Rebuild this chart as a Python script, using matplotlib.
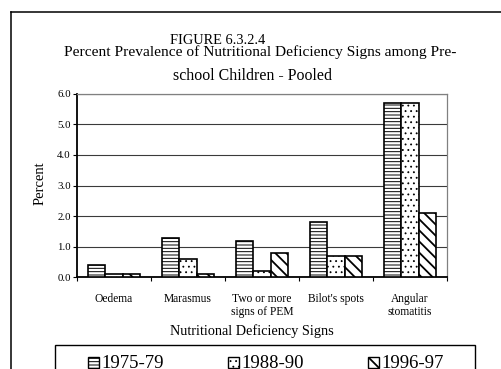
import matplotlib
matplotlib.use("Agg")
import matplotlib.pyplot as plt
from matplotlib.patches import Rectangle
from matplotlib.lines import Line2D
import numpy as np

# ---- data ----
categories = ["Oedema", "Marasmus", "Two or more\nsigns of PEM",
              "Bilot's spots", "Angular\nstomatitis"]
periods = ["1975-79", "1988-90", "1996-97"]
pct_1975_79 = [0.4, 1.3, 1.2, 1.8, 5.7]
pct_1988_90 = [0.1, 0.6, 0.2, 0.7, 5.7]
pct_1996_97 = [0.1, 0.1, 0.8, 0.7, 2.1]
y_ticks = [0, 1, 2, 3, 4, 5, 6]

series = [pct_1975_79, pct_1988_90, pct_1996_97]
hatches = ["-----", "...", "\\\\\\"]
hatch_widths = [0.7, 0.6, 1.3]

plt.rcParams["font.family"] = ["Liberation Serif", "DejaVu Serif"]

W, H = 502, 369
fig = plt.figure(figsize=(W / 100, H / 100), dpi=100)


def fx(x):
    return x / W


def fy(y):
    return 1 - y / H


# outer frame (top and left edges visible)
fig.add_artist(Line2D([fx(11), fx(11)], [fy(12), fy(H + 5)], color="black",
                      lw=1.1, transform=fig.transFigure))
fig.add_artist(Line2D([fx(11), fx(W + 5)], [fy(12), fy(12)], color="black",
                      lw=1.1, transform=fig.transFigure))

# titles
fig.text(fx(218), fy(43.5), "FIGURE 6.3.2.4", ha="center", va="baseline",
         fontsize=10.4)
fig.text(fx(260), fy(56), "Percent Prevalence of Nutritional Deficiency Signs among Pre-",
         ha="center", va="baseline", fontsize=11.1)
fig.text(fx(253), fy(80.5), "school Children - Pooled", ha="center",
         va="baseline", fontsize=11.4)

# plot area
ax = fig.add_axes([fx(77), fy(277.3), 370 / W, 183.6 / H])
x = np.arange(len(categories))
bw = 0.23
for i, (vals, h, hw) in enumerate(zip(series, hatches, hatch_widths)):
    bars = ax.bar(x + (i - 1) * bw, vals, bw, facecolor="white",
                  edgecolor="black", linewidth=1.2, hatch=h, label=periods[i],
                  zorder=3)
    for b in bars:
        if hasattr(b, "set_hatch_linewidth"):
            b.set_hatch_linewidth(hw)

ax.set_xlim(-0.5, len(categories) - 0.5)
ax.set_ylim(0, 6)
ax.set_yticks(y_ticks)
ax.set_yticklabels([f"{v:.1f}" for v in y_ticks], fontsize=7.8)
ax.yaxis.grid(True, color="#3a3a3a", lw=0.8)
ax.set_axisbelow(True)

ax.set_xticks(np.arange(-0.5, len(categories), 1.0))
ax.set_xticklabels([])
ax.set_xticks(x, minor=True)
ax.set_xticklabels(categories, minor=True, fontsize=8.3, linespacing=1.12)
ax.tick_params(axis="x", which="major", direction="out", length=3,
               width=0.8, color="black")
ax.tick_params(axis="x", which="minor", length=0, pad=11.5)
ax.tick_params(axis="y", direction="out", length=3, width=0.8, pad=1.5,
               color="black")

for s in ["top", "right"]:
    ax.spines[s].set_color("#808080")
    ax.spines[s].set_linewidth(0.9)
for s in ["left", "bottom"]:
    ax.spines[s].set_color("black")
    ax.spines[s].set_linewidth(1.3)

fig.text(fx(40), fy(183), "Percent", rotation=90, ha="center", va="center",
         fontsize=10.5)
fig.text(fx(252), fy(334.5), "Nutritional Deficiency Signs", ha="center",
         va="baseline", fontsize=10.3)

# legend drawn as a framed row of swatches
fig.add_artist(Rectangle((fx(55), fy(H + 10)), (475 - 55) / W, (H + 10 - 345) / H,
                         fill=False, edgecolor="black", lw=1.0,
                         transform=fig.transFigure))
for i, (lab, h, hw) in enumerate(zip(periods, hatches, hatch_widths)):
    x0 = 88 + 140 * i
    sw = Rectangle((fx(x0), fy(367.5)), 11 / W, 11 / H, facecolor="white",
                   edgecolor="black", lw=1.0, hatch=h,
                   transform=fig.transFigure)
    if hasattr(sw, "set_hatch_linewidth"):
        sw.set_hatch_linewidth(hw)
    fig.add_artist(sw)
    fig.text(fx(x0 + 13), fy(367.5), lab, ha="left", va="baseline",
             fontsize=13.5)

fig.savefig("out.png", dpi=100)
